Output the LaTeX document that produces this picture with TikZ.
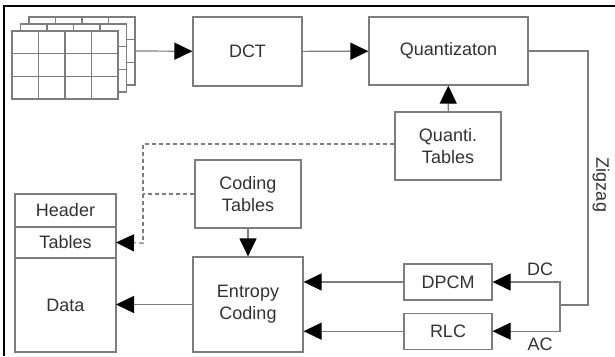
\documentclass[tikz,border=0pt]{standalone}
\usepackage{fontspec}
\setmainfont{Liberation Sans}
\usepackage{tikz}
\usetikzlibrary{arrows.meta,positioning}
\usepackage{xcolor}
\definecolor{jpgline}{RGB}{125,125,125}
\definecolor{jpgtext}{RGB}{50,50,50}
\tikzstyle{arrow} = [line width=1.2pt,color=jpgline,-{Triangle[length=18pt,width=17pt,color=black]}]
\tikzstyle{link} = [line width=1.2pt,color=jpgline]
\tikzstyle{dashlink} = [line width=1.2pt,color=jpgline,dash pattern=on 4pt off 3pt]
\tikzstyle{stage} = [rectangle, draw=jpgline, line width=1.2pt, text=jpgtext, align=center, font=\fontsize{18}{22}\selectfont]
\tikzstyle{field} = [stage, minimum width=101pt, outer sep=0pt]
\tikzstyle{gridline} = [line width=1.3pt, color=jpgline]

\begin{document}
\begin{tikzpicture}[x=1pt, y=-1pt]
\useasboundingbox (0,0) rectangle (615,356);
% frame
\draw[line width=2pt] (4,356) -- (4,6) -- (615,6);

% stacked image blocks
\foreach \k in {2,1,0}{
  \begin{scope}[shift={(8.5*\k,-7*\k)}]
    \filldraw[gridline, fill=white] (12,31) rectangle (118,99);
    \foreach \gx in {38.5,65,91.5} \draw[gridline] (\gx,31) -- (\gx,99);
    \foreach \gy in {53.7,76.3} \draw[gridline] (12,\gy) -- (118,\gy);
  \end{scope}
}
\coordinate (stack) at (135,51);

% encoder chain
\node (dct) [stage, minimum width=109pt, minimum height=69pt] at (247.5,51.5) {DCT};
\node (quant) [stage, minimum width=159pt, minimum height=68pt] at (448.5,51) {Quantizaton};
\node (qtab) [stage, minimum width=106pt, minimum height=68pt] at (448,146) {Quanti.\\Tables};
\node (codtab) [stage, minimum width=106pt, minimum height=68pt] at (248,194) {Coding\\Tables};
\node (entropy) [stage, minimum width=110pt, minimum height=95pt] at (248,304.5) {Entropy\\Coding};
\node (dpcm) [stage, minimum width=88pt, minimum height=36pt] at (448,282) {DPCM};
\node (rlc) [stage, minimum width=88pt, minimum height=36pt, below=12pt of dpcm] {RLC};

% output stream
\node (header) [field, minimum height=33pt] at (65.5,210.5) {Header};
\node (tables) [field, minimum height=31pt, below=0pt of header] {Tables};
\node (data) [field, minimum height=94pt, below=0pt of tables] {Data};

\draw[arrow] (stack) -- (dct);
\draw[arrow] (dct) -- (quant);
\draw[arrow] (qtab) -- (quant);
\draw[arrow] (codtab) -- (entropy);
\draw[arrow] (entropy.west) -- (entropy.west -| data.east);

% zigzag scan into DC / AC paths
\coordinate (zz) at (588,305);
\coordinate (split) at (560,305);
\draw[link] (quant.east) -| (zz) -- (split);
\draw[arrow] (split) |- (dpcm.east);
\draw[arrow] (split) |- (rlc.east);
\draw[arrow] (dpcm.west) -- (dpcm.west -| entropy.east);
\draw[arrow] (rlc.west) -- (rlc.west -| entropy.east);
\node[text=jpgtext, font=\fontsize{18}{22}\selectfont, rotate=-90] at (601,185) {Zigzag};
\node[text=jpgtext, font=\fontsize{18}{22}\selectfont] at (540,269) {DC};
\node[text=jpgtext, font=\fontsize{18}{22}\selectfont] at (540,344) {AC};

% tables written into the header
\coordinate (tabin) at (143,243);
\draw[dashlink] ([yshift=2pt]qtab.west) -| (tabin);
\draw[dashlink] (codtab.west) -- (codtab.west -| tabin);
\draw[arrow, dashlink] (tabin) -- (tables.east);
\end{tikzpicture}
\end{document}
